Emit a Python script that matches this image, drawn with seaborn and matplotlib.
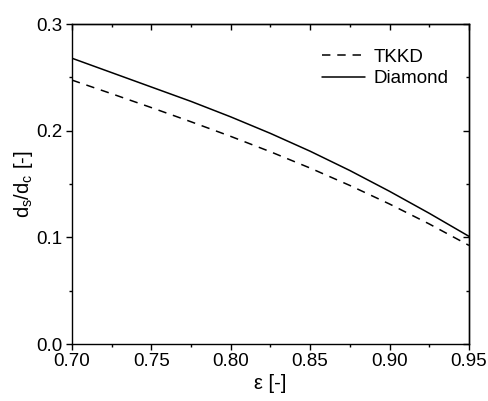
import numpy as np
import pandas as pd
import matplotlib
matplotlib.use('Agg')
import matplotlib.pyplot as plt
import seaborn as sns
from matplotlib.ticker import MultipleLocator, FormatStrFormatter

# porosity values and ratio
eps = [0.700, 0.725, 0.750, 0.775, 0.800, 0.825, 0.850, 0.875, 0.900, 0.925, 0.950]
tkkd = [0.2475, 0.2347, 0.2217, 0.2084, 0.1947, 0.1803, 0.1650, 0.1487, 0.1313, 0.1126, 0.0925]
diamond = [0.268, 0.2545, 0.241, 0.2275, 0.2130, 0.1975, 0.1808, 0.1627, 0.1432, 0.1226, 0.101]
models = ['TKKD', 'Diamond']

df = pd.DataFrame({
    'eps': eps * 2,
    'ratio': tkkd + diamond,
    'model': ['TKKD'] * len(eps) + ['Diamond'] * len(eps),
})

sns.set_style('ticks')
plt.rcParams['font.family'] = ['Liberation Sans', 'DejaVu Sans']
plt.rcParams['mathtext.default'] = 'regular'
plt.rcParams['axes.linewidth'] = 1.0
plt.rcParams['text.color'] = 'black'
plt.rcParams['axes.labelcolor'] = 'black'

fig = plt.figure(figsize=(4.89, 4.01), dpi=100)
ax = fig.add_axes([0.147, 0.142, 0.812, 0.798])

sns.lineplot(data=df, x='eps', y='ratio', style='model', style_order=models,
             dashes={'TKKD': (5.5, 4.5), 'Diamond': ''}, color='black',
             linewidth=1.1, ax=ax)

ax.set_xlim(0.70, 0.95)
ax.set_ylim(0.0, 0.3)
ax.xaxis.set_major_locator(MultipleLocator(0.05))
ax.xaxis.set_minor_locator(MultipleLocator(0.025))
ax.yaxis.set_major_locator(MultipleLocator(0.1))
ax.yaxis.set_minor_locator(MultipleLocator(0.05))
ax.xaxis.set_major_formatter(FormatStrFormatter('%.2f'))
ax.yaxis.set_major_formatter(FormatStrFormatter('%.1f'))
ax.tick_params(which='major', direction='out', length=4, width=1.0, labelsize=13.5,
               colors='black', pad=2.5)
ax.tick_params(which='minor', direction='out', length=2.5, width=1.0, colors='black')
for s in ax.spines.values():
    s.set_visible(True)
    s.set_color('black')

# mirrored ticks pointing inward on top and right
top = ax.secondary_xaxis('top')
top.xaxis.set_major_locator(MultipleLocator(0.05))
top.xaxis.set_minor_locator(MultipleLocator(0.025))
top.tick_params(which='major', direction='in', length=4, width=1.0, labeltop=False, colors='black')
top.tick_params(which='minor', direction='in', length=2.5, width=1.0, colors='black')
right = ax.secondary_yaxis('right')
right.yaxis.set_major_locator(MultipleLocator(0.1))
right.yaxis.set_minor_locator(MultipleLocator(0.05))
right.tick_params(which='major', direction='in', length=4, width=1.0, labelright=False, colors='black')
right.tick_params(which='minor', direction='in', length=2.5, width=1.0, colors='black')

ax.set_xlabel('ε [-]', fontsize=14.5, labelpad=3)
ax.set_ylabel('d$_s$/d$_c$ [-]', fontsize=14.5, labelpad=1)

ax.legend(title=None, frameon=False, loc='upper right', fontsize=13.5,
          handlelength=2.3, handletextpad=0.45, labelspacing=0.25,
          borderaxespad=0.9, bbox_to_anchor=(1.01, 1.0))

fig.savefig('out.png', dpi=100)
